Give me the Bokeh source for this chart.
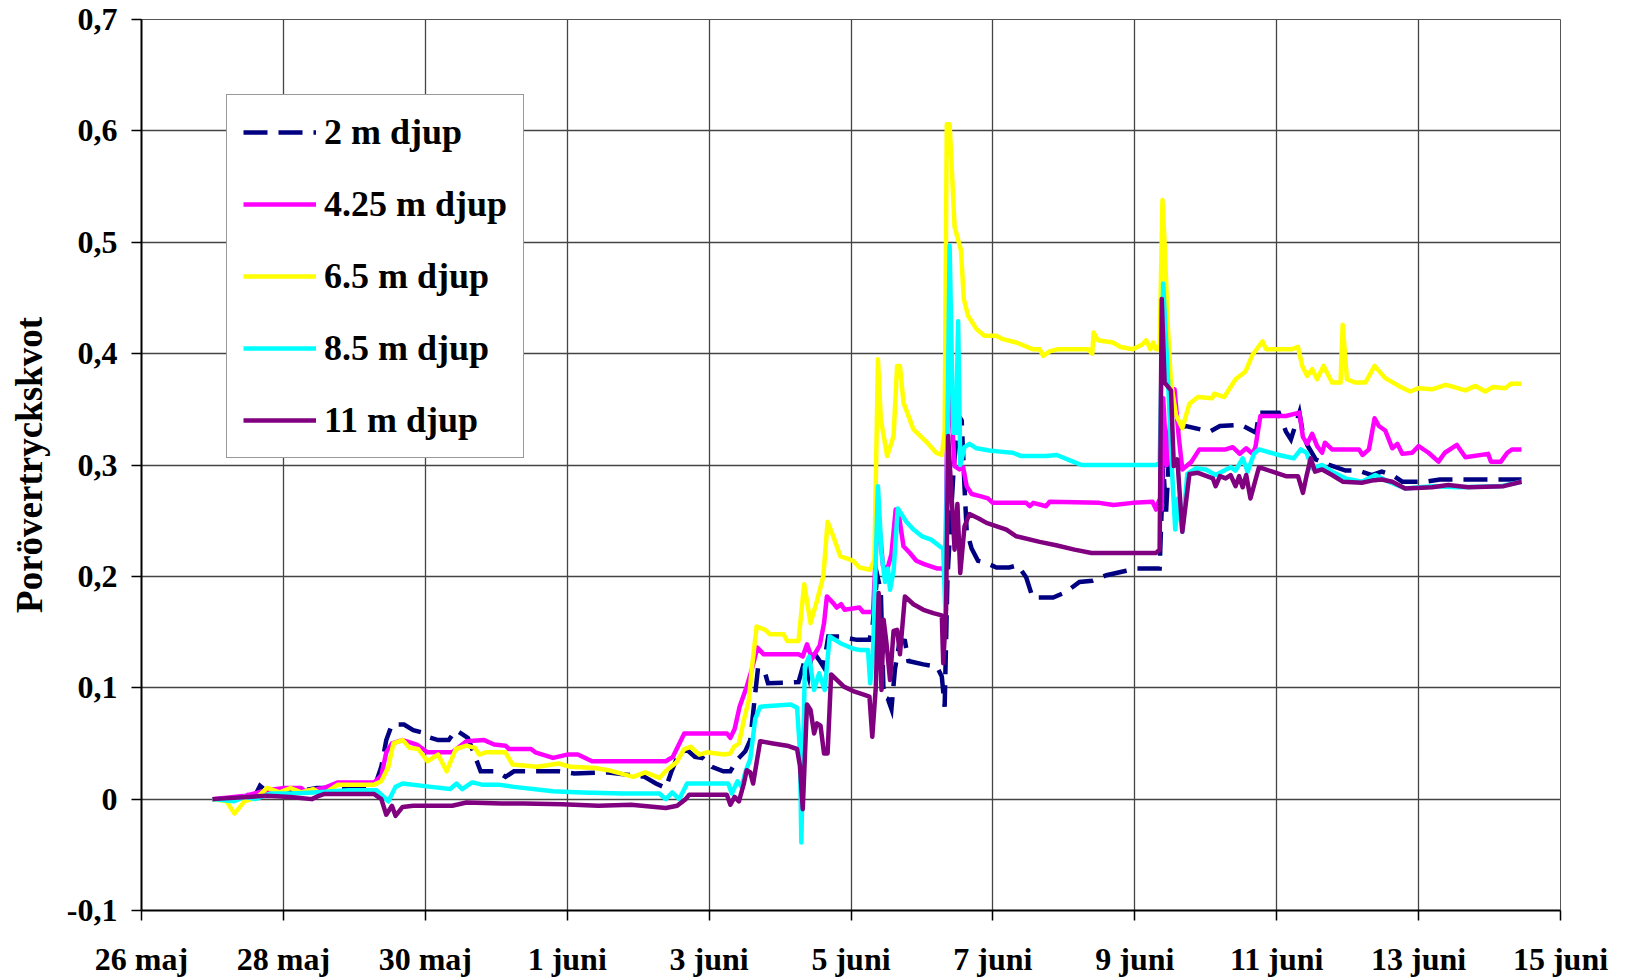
from bokeh.plotting import figure
from bokeh.models import FixedTicker, Range1d, Legend, LegendItem
from bokeh.embed import file_html
from bokeh.resources import INLINE

# x = days since 26 maj (0 = 26 maj 00:00)
x_ticks = [0, 2, 4, 6, 8, 10, 12, 14, 16, 18, 20]
x_tick_labels = ["26 maj", "28 maj", "30 maj", "1 juni", "3 juni", "5 juni",
                 "7 juni", "9 juni", "11 juni", "13 juni", "15 juni"]
y_ticks = [-0.1, 0.0, 0.1, 0.2, 0.3, 0.4, 0.5, 0.6, 0.7]
y_tick_labels = ["-0,1", "0", "0,1", "0,2", "0,3", "0,4", "0,5", "0,6", "0,7"]
y_title = "Porövertryckskvot"

series_names = ["2 m djup", "4.25 m djup", "6.5 m djup", "8.5 m djup", "11 m djup"]

d2_x = [1.00, 1.30, 1.45, 1.60, 1.67, 1.80, 2.07, 2.30, 2.47, 2.90, 3.28, 3.38, 3.45, 3.53, 3.70, 3.83, 3.95,
        4.03, 4.18, 4.33, 4.43, 4.53, 4.60, 4.68, 4.78, 5.00, 5.13, 5.25, 5.88, 6.10, 6.58, 6.83, 7.09, 7.25,
        7.39, 7.47, 7.58, 7.69, 7.80, 7.91, 8.04, 8.20, 8.30, 8.39, 8.51, 8.58, 8.65, 8.69, 8.79, 8.83, 9.26,
        9.34, 9.40, 9.45, 9.55, 9.61, 9.68, 9.85, 10.08, 10.26, 10.30, 10.37, 10.42, 10.46, 10.52, 10.57, 10.62,
        10.69, 10.76, 10.81, 11.02, 11.21, 11.28, 11.32, 11.36, 11.45, 11.52, 11.56, 11.60, 11.63, 11.70, 11.79,
        11.91, 12.05, 12.23, 12.35, 12.47, 12.56, 12.85, 13.03, 13.22, 13.40, 13.60, 13.88, 14.02, 14.35, 14.40,
        14.44, 14.51, 14.58, 14.72, 15.06, 15.20, 15.50, 15.71, 15.75, 16.03, 16.13, 16.20, 16.32, 16.37, 16.43,
        16.55, 16.74, 16.97, 17.15, 17.34, 17.48, 17.63, 17.77, 18.10, 18.30, 19.45]
d2_y = [0.0, 0.0, 0.004, 0.003, 0.012, 0.005, 0.006, 0.008, 0.010, 0.010, 0.010, 0.029, 0.053, 0.067, 0.067, 0.062,
        0.060, 0.056, 0.053, 0.053, 0.062, 0.058, 0.055, 0.042, 0.025, 0.025, 0.020, 0.025, 0.025, 0.023, 0.024,
        0.022, 0.020, 0.014, 0.010, 0.025, 0.042, 0.044, 0.038, 0.037, 0.029, 0.025, 0.025, 0.035, 0.043, 0.053,
        0.095, 0.118, 0.113, 0.104, 0.105, 0.123, 0.110, 0.134, 0.125, 0.119, 0.146, 0.146, 0.143, 0.143, 0.153,
        0.201, 0.187, 0.092, 0.090, 0.081, 0.117, 0.143, 0.142, 0.124, 0.121, 0.119, 0.110, 0.083, 0.200, 0.300,
        0.344, 0.340, 0.280, 0.241, 0.225, 0.214, 0.212, 0.208, 0.208, 0.210, 0.199, 0.181, 0.181, 0.186, 0.195,
        0.196, 0.201, 0.205, 0.207, 0.207, 0.300, 0.257, 0.341, 0.332, 0.335, 0.330, 0.335, 0.336, 0.329, 0.347,
        0.347, 0.330, 0.323, 0.347, 0.328, 0.318, 0.305, 0.300, 0.295, 0.295, 0.291, 0.294, 0.291, 0.285, 0.285,
        0.287, 0.287]

d425_x = [1.00, 1.47, 1.77, 2.02, 2.25, 2.30, 2.57, 2.77, 3.28, 3.38, 3.45, 3.53, 3.68, 3.88, 4.03, 4.38, 4.58,
          4.83, 4.97, 5.13, 5.18, 5.49, 5.55, 5.80, 6.00, 6.15, 6.35, 7.39, 7.49, 7.65, 8.25, 8.30, 8.36, 8.43,
          8.53, 8.60, 8.68, 8.77, 9.26, 9.32, 9.38, 9.45, 9.56, 9.62, 9.66, 9.75, 9.80, 9.86, 9.91, 10.12, 10.17,
          10.31, 10.38, 10.45, 10.51, 10.57, 10.63, 10.67, 10.74, 10.83, 10.92, 11.03, 11.22, 11.30, 11.33, 11.37,
          11.42, 11.46, 11.53, 11.58, 11.63, 11.70, 11.82, 11.93, 12.00, 12.47, 12.52, 12.57, 12.75, 12.80, 13.50,
          13.70, 13.97, 14.25, 14.30, 14.34, 14.38, 14.40, 14.45, 14.50, 14.56, 14.62, 14.67, 14.80, 14.91, 15.28,
          15.38, 15.48, 15.57, 15.66, 15.70, 15.77, 16.13, 16.32, 16.37, 16.43, 16.50, 16.57, 16.64, 16.68, 16.78,
          17.16, 17.21, 17.30, 17.38, 17.44, 17.53, 17.63, 17.70, 17.77, 17.91, 18.00, 18.14, 18.28, 18.37, 18.54,
          18.66, 18.98, 19.02, 19.16, 19.25, 19.32, 19.45]
d425_y = [0.0, 0.003, 0.008, 0.010, 0.010, 0.007, 0.010, 0.015, 0.015, 0.021, 0.042, 0.050, 0.053, 0.049, 0.042,
          0.042, 0.052, 0.053, 0.049, 0.048, 0.045, 0.045, 0.042, 0.037, 0.040, 0.040, 0.034, 0.034, 0.038, 0.059,
          0.059, 0.055, 0.063, 0.083, 0.101, 0.116, 0.136, 0.130, 0.130, 0.128, 0.139, 0.126, 0.138, 0.158, 0.182,
          0.176, 0.172, 0.175, 0.170, 0.172, 0.168, 0.168, 0.260, 0.210, 0.206, 0.220, 0.260, 0.257, 0.227, 0.221,
          0.214, 0.211, 0.207, 0.207, 0.200, 0.417, 0.344, 0.299, 0.296, 0.298, 0.281, 0.274, 0.272, 0.270, 0.266,
          0.266, 0.263, 0.266, 0.263, 0.267, 0.266, 0.264, 0.266, 0.267, 0.260, 0.268, 0.260, 0.360, 0.300, 0.340,
          0.368, 0.325, 0.296, 0.303, 0.314, 0.314, 0.316, 0.310, 0.315, 0.310, 0.316, 0.344, 0.344, 0.347, 0.325,
          0.319, 0.328, 0.317, 0.311, 0.320, 0.314, 0.314, 0.309, 0.314, 0.342, 0.335, 0.331, 0.315, 0.319, 0.310,
          0.311, 0.317, 0.311, 0.303, 0.311, 0.318, 0.307, 0.310, 0.303, 0.303, 0.311, 0.314, 0.314]

d65_x = [1.00, 1.20, 1.31, 1.45, 1.64, 1.77, 1.95, 2.10, 2.25, 2.42, 2.55, 2.77, 3.28, 3.38, 3.48, 3.55, 3.68,
         3.78, 3.90, 4.03, 4.18, 4.30, 4.43, 4.58, 4.70, 4.76, 4.85, 5.13, 5.23, 5.58, 5.88, 6.05, 6.39, 6.58,
         6.93, 7.10, 7.30, 7.40, 7.54, 7.65, 7.74, 7.86, 7.97, 8.10, 8.21, 8.30, 8.35, 8.42, 8.49, 8.56, 8.60,
         8.67, 8.79, 8.86, 9.05, 9.10, 9.26, 9.34, 9.43, 9.52, 9.61, 9.67, 9.75, 9.85, 9.95, 10.03, 10.12, 10.27,
         10.33, 10.38, 10.42, 10.51, 10.60, 10.65, 10.69, 10.74, 10.88, 11.06, 11.20, 11.28, 11.32, 11.35, 11.39,
         11.46, 11.55, 11.59, 11.65, 11.77, 11.88, 12.05, 12.14, 12.33, 12.56, 12.66, 12.71, 12.80, 12.92, 13.34,
         13.40, 13.42, 13.48, 13.69, 13.80, 13.97, 14.10, 14.16, 14.22, 14.26, 14.30, 14.35, 14.39, 14.42, 14.47,
         14.51, 14.58, 14.67, 14.77, 14.89, 15.09, 15.12, 15.26, 15.42, 15.56, 15.66, 15.80, 15.85, 16.22, 16.30,
         16.36, 16.43, 16.50, 16.57, 16.66, 16.78, 16.90, 16.93, 16.99, 17.11, 17.25, 17.38, 17.53, 17.72, 17.88,
         18.00, 18.19, 18.38, 18.50, 18.66, 18.80, 18.94, 19.05, 19.22, 19.30, 19.45]
d65_y = [0.0, -0.002, -0.013, -0.002, 0.002, 0.010, 0.006, 0.010, 0.006, 0.009, 0.004, 0.013, 0.013, 0.016, 0.029,
         0.050, 0.053, 0.046, 0.045, 0.034, 0.040, 0.025, 0.045, 0.048, 0.046, 0.040, 0.042, 0.042, 0.031, 0.029,
         0.032, 0.029, 0.028, 0.026, 0.020, 0.024, 0.019, 0.026, 0.033, 0.045, 0.047, 0.040, 0.042, 0.041, 0.040,
         0.041, 0.047, 0.050, 0.071, 0.089, 0.116, 0.155, 0.152, 0.148, 0.148, 0.142, 0.142, 0.193, 0.158, 0.178,
         0.200, 0.249, 0.236, 0.218, 0.216, 0.214, 0.208, 0.206, 0.215, 0.395, 0.341, 0.308, 0.326, 0.389, 0.389,
         0.356, 0.332, 0.321, 0.311, 0.309, 0.330, 0.606, 0.606, 0.514, 0.493, 0.449, 0.434, 0.422, 0.416, 0.416,
         0.413, 0.410, 0.404, 0.404, 0.398, 0.402, 0.404, 0.404, 0.400, 0.419, 0.412, 0.410, 0.406, 0.404, 0.408,
         0.412, 0.404, 0.410, 0.404, 0.404, 0.538, 0.499, 0.419, 0.374, 0.345, 0.333, 0.355, 0.361, 0.360, 0.364,
         0.361, 0.377, 0.384, 0.399, 0.411, 0.404, 0.404, 0.406, 0.389, 0.380, 0.386, 0.377, 0.389, 0.374, 0.374,
         0.426, 0.377, 0.374, 0.374, 0.389, 0.378, 0.371, 0.366, 0.369, 0.368, 0.372, 0.370, 0.367, 0.371, 0.366,
         0.370, 0.369, 0.373, 0.373]

d85_x = [1.00, 1.30, 1.45, 1.60, 1.82, 2.10, 2.42, 2.92, 3.31, 3.43, 3.48, 3.58, 3.68, 4.08, 4.35, 4.44, 4.52,
         4.66, 4.80, 5.03, 5.25, 5.80, 6.20, 6.79, 7.30, 7.39, 7.48, 7.58, 7.69, 8.27, 8.32, 8.40, 8.46, 8.51,
         8.58, 8.65, 8.72, 9.15, 9.24, 9.28, 9.30, 9.35, 9.41, 9.48, 9.55, 9.63, 9.70, 9.85, 10.03, 10.12, 10.24,
         10.27, 10.31, 10.38, 10.43, 10.48, 10.52, 10.55, 10.60, 10.66, 10.78, 10.88, 11.00, 11.13, 11.25, 11.30,
         11.33, 11.39, 11.44, 11.48, 11.51, 11.54, 11.60, 11.67, 11.77, 11.95, 12.10, 12.28, 12.40, 12.75, 12.90,
         13.13, 13.25, 14.30, 14.35, 14.40, 14.47, 14.52, 14.57, 14.61, 14.67, 14.74, 14.86, 15.00, 15.14, 15.26,
         15.35, 15.42, 15.52, 15.59, 15.68, 15.75, 16.03, 16.24, 16.34, 16.42, 16.50, 16.64, 16.78, 16.97, 17.20,
         17.39, 17.58, 17.81, 18.19, 18.56, 19.16, 19.45]
d85_y = [0.0, -0.002, 0.002, 0.0, 0.005, 0.005, 0.006, 0.008, 0.008, 0.001, -0.002, 0.011, 0.014, 0.011, 0.009,
         0.014, 0.009, 0.015, 0.013, 0.013, 0.011, 0.007, 0.006, 0.005, 0.005, 0.0, 0.006, 0.0, 0.014, 0.014,
         0.005, 0.016, 0.011, 0.024, 0.036, 0.072, 0.083, 0.085, 0.082, 0.044, -0.039, 0.119, 0.128, 0.098, 0.113,
         0.098, 0.146, 0.140, 0.135, 0.134, 0.134, 0.104, 0.130, 0.281, 0.221, 0.195, 0.207, 0.188, 0.205, 0.261,
         0.249, 0.242, 0.236, 0.233, 0.227, 0.225, 0.167, 0.497, 0.329, 0.329, 0.429, 0.300, 0.316, 0.319, 0.315,
         0.313, 0.312, 0.311, 0.308, 0.308, 0.309, 0.303, 0.300, 0.300, 0.302, 0.463, 0.374, 0.300, 0.242, 0.270,
         0.240, 0.292, 0.297, 0.296, 0.291, 0.295, 0.298, 0.295, 0.306, 0.294, 0.310, 0.314, 0.309, 0.306, 0.314,
         0.311, 0.297, 0.300, 0.294, 0.288, 0.285, 0.291, 0.285, 0.279, 0.281, 0.280, 0.281, 0.285]

d11_x = [1.00, 1.77, 2.10, 2.40, 2.50, 2.57, 3.28, 3.38, 3.45, 3.53, 3.58, 3.68, 3.83, 4.38, 4.58, 5.08, 5.39,
         5.93, 6.44, 6.90, 7.39, 7.55, 7.67, 7.72, 8.25, 8.30, 8.36, 8.42, 8.49, 8.53, 8.58, 8.62, 8.72, 8.90,
         9.10, 9.24, 9.28, 9.32, 9.38, 9.43, 9.48, 9.52, 9.57, 9.62, 9.67, 9.72, 9.80, 9.90, 10.03, 10.17, 10.26,
         10.30, 10.35, 10.39, 10.43, 10.46, 10.50, 10.55, 10.60, 10.65, 10.69, 10.76, 10.88, 11.02, 11.16, 11.28,
         11.30, 11.34, 11.37, 11.46, 11.50, 11.54, 11.60, 11.67, 11.80, 11.91, 12.19, 12.33, 12.66, 12.89, 13.15,
         13.39, 14.00, 14.30, 14.35, 14.38, 14.42, 14.51, 14.55, 14.60, 14.67, 14.77, 14.89, 15.10, 15.14, 15.20,
         15.28, 15.35, 15.42, 15.47, 15.52, 15.57, 15.63, 15.75, 15.94, 16.13, 16.30, 16.37, 16.42, 16.48, 16.54,
         16.64, 16.78, 16.93, 17.20, 17.34, 17.48, 17.63, 17.81, 18.19, 18.42, 18.70, 19.20, 19.45]
d11_y = [0.0, 0.003, 0.002, 0.0, 0.003, 0.0045, 0.0045, 0.0, -0.014, -0.006, -0.015, -0.007, -0.006, -0.006, -0.003,
         -0.004, -0.004, -0.0045, -0.006, -0.005, -0.008, -0.006, 0.0, 0.004, 0.004, -0.005, 0.002, -0.002, 0.014,
         0.026, 0.024, 0.014, 0.052, 0.050, 0.048, 0.045, 0.030, -0.009, 0.085, 0.080, 0.059, 0.068, 0.066, 0.041,
         0.041, 0.112, 0.107, 0.101, 0.097, 0.094, 0.092, 0.056, 0.101, 0.185, 0.098, 0.161, 0.140, 0.107, 0.151,
         0.152, 0.130, 0.182, 0.175, 0.170, 0.167, 0.165, 0.122, 0.170, 0.326, 0.224, 0.265, 0.203, 0.245, 0.256,
         0.252, 0.248, 0.242, 0.236, 0.231, 0.228, 0.224, 0.221, 0.221, 0.221, 0.224, 0.449, 0.374, 0.367, 0.299,
         0.305, 0.240, 0.292, 0.293, 0.288, 0.281, 0.290, 0.288, 0.291, 0.281, 0.290, 0.280, 0.291, 0.270, 0.298,
         0.294, 0.290, 0.290, 0.275, 0.290, 0.306, 0.294, 0.296, 0.291, 0.285, 0.284, 0.286, 0.287, 0.285, 0.279,
         0.280, 0.282, 0.280, 0.281, 0.285]

FONT = "Liberation Serif"

p = figure(output_backend="svg", toolbar_location=None,
           frame_width=1419, frame_height=891,
           min_border_left=141, min_border_top=19, min_border_bottom=56, min_border_right=52,
           x_range=Range1d(0, 20), y_range=Range1d(-0.1, 0.7))

p.background_fill_color = "white"
p.border_fill_color = "white"
p.outline_line_color = "#555555"
p.outline_line_width = 1

# axes
p.xaxis.ticker = FixedTicker(ticks=x_ticks)
p.xaxis.major_label_overrides = {t: l for t, l in zip(x_ticks, x_tick_labels)}
p.yaxis.ticker = FixedTicker(ticks=y_ticks)
p.yaxis.major_label_overrides = {t: l for t, l in zip(y_ticks, y_tick_labels)}
for ax in (p.xaxis, p.yaxis):
    ax.axis_line_color = "black"
    ax.axis_line_width = 2
    ax.major_tick_line_color = "black"
    ax.major_tick_line_width = 1.5
    ax.major_tick_out = 10
    ax.major_tick_in = 0
    ax.minor_tick_line_color = None
    ax.major_label_text_font = FONT
    ax.major_label_text_font_style = "bold"
    ax.major_label_text_font_size = "32px"
    ax.major_label_text_color = "black"
p.xaxis.major_label_standoff = 20
p.yaxis.major_label_standoff = 14
p.yaxis.axis_label = y_title
p.yaxis.axis_label_text_font = FONT
p.yaxis.axis_label_text_font_style = "bold"
p.yaxis.axis_label_text_font_size = "37px"
p.yaxis.axis_label_text_color = "black"
p.yaxis.axis_label_standoff = 14

p.grid.grid_line_color = "#444444"
p.grid.grid_line_width = 1.3
p.xgrid.ticker = FixedTicker(ticks=x_ticks)
p.ygrid.ticker = FixedTicker(ticks=y_ticks)

colors = ["#000080", "#FF00FF", "#FFFF00", "#00FFFF", "#800080"]
xs = [d2_x, d425_x, d65_x, d85_x, d11_x]
ys = [d2_y, d425_y, d65_y, d85_y, d11_y]
items = []
for name, c, x, y in zip(series_names, colors, xs, ys):
    kw = dict(line_color=c, line_width=4.5, line_join="round")
    if name == "2 m djup":
        kw["line_dash"] = "24 11"
        kw["line_join"] = "miter"
    r = p.line(x, y, **kw)
    items.append(LegendItem(label=name, renderers=[r]))

legend = Legend(items=items, location=(85, 452))
legend.label_text_font = FONT
legend.label_text_font_style = "bold"
legend.label_text_font_size = "36px"
legend.label_text_color = "black"
legend.glyph_width = 73
legend.glyph_height = 40
legend.label_height = 40
legend.label_standoff = 8
legend.spacing = 30
legend.padding = 16
legend.margin = 0
legend.border_line_color = "#333333"
legend.border_line_width = 1
legend.background_fill_color = "white"
legend.background_fill_alpha = 1
p.add_layout(legend, "center")

open("out.html", "w").write(file_html(p, INLINE))
